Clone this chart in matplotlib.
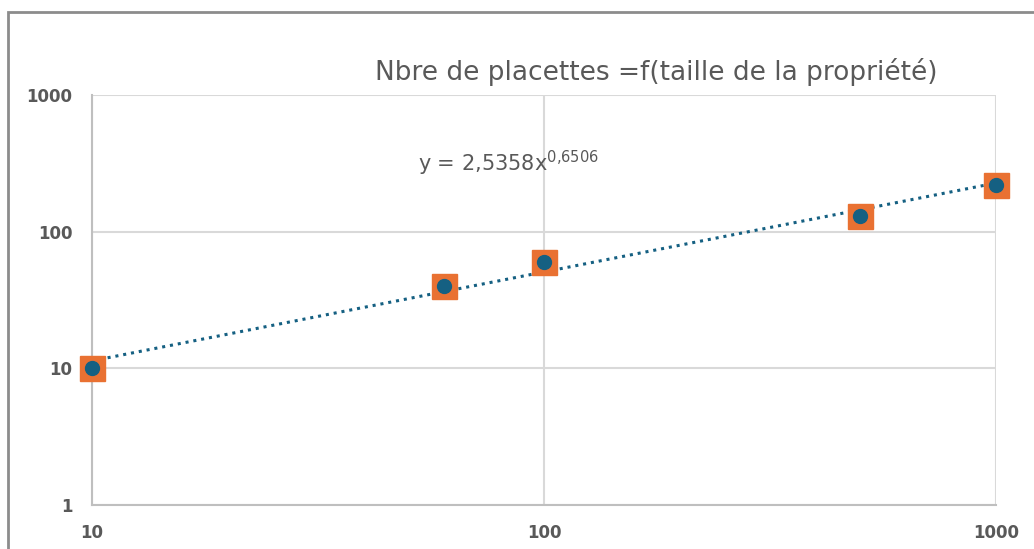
import matplotlib.pyplot as plt
from matplotlib.patches import Rectangle

# surface de la propriété vs nombre de placettes
taille = [10, 60, 100, 500, 1000]
placettes = [10, 40, 60, 130, 220]

# coefficients de la courbe de tendance (puissance) affichés sur le graphique
coef_a = 2.5358
coef_b = 0.6506
x_range = [10, 1000]

orange = '#E97132'
bleu = '#156082'
gris = '#595959'

fig = plt.figure(figsize=(10.34, 5.49), dpi=100)
ax = fig.add_axes([92/1034, 1 - 505/549, (996 - 92)/1034, (505 - 95)/549])

trend_y = [coef_a * x ** coef_b for x in x_range]
ax.plot(x_range, trend_y, linestyle=(0, (1, 1.6)), color=bleu, lw=2.2, zorder=2)
ax.plot(taille, placettes, 's', ms=18, color=orange, mec=orange, zorder=3, clip_on=False)
ax.plot(taille, placettes, 'o', ms=10, color=bleu, zorder=4, clip_on=False)

ax.set_xscale('log')
ax.set_yscale('log')
ax.set_xlim(10, 1000)
ax.set_ylim(1, 1000)
ax.grid(True, which='major', color='#d9d9d9', lw=1.5)
ax.minorticks_off()
for s in ['top', 'right']:
    ax.spines[s].set_visible(False)
for s in ['left', 'bottom']:
    ax.spines[s].set_color('#bfbfbf')
    ax.spines[s].set_linewidth(1.5)
ax.set_xticks([10, 100, 1000])
ax.set_xticklabels(['10', '100', '1000'])
ax.set_yticks([1, 10, 100, 1000])
ax.set_yticklabels(['1', '10', '100', '1000'])
ax.tick_params(length=0, labelsize=12, labelcolor=gris, pad=14)
for lab in ax.get_xticklabels() + ax.get_yticklabels():
    lab.set_fontweight('semibold')
ax.set_axisbelow(True)

fig.text(656/1034, 1 - 72/549, 'Nbre de placettes =f(taille de la propriété)',
         ha='center', va='center', fontsize=19, color=gris)
fig.text(418/1034, 1 - 163/549, r'y = 2,5358x$^{0{,}6506}$', ha='left', va='center',
         fontsize=15, color=gris)

fig.patches.append(Rectangle((8/1034, -0.1), 1.1, 1 - 12/549 + 0.1, transform=fig.transFigure,
                             fill=False, edgecolor='#8c8c8c', lw=2))

fig.savefig('out.png', dpi=100)
